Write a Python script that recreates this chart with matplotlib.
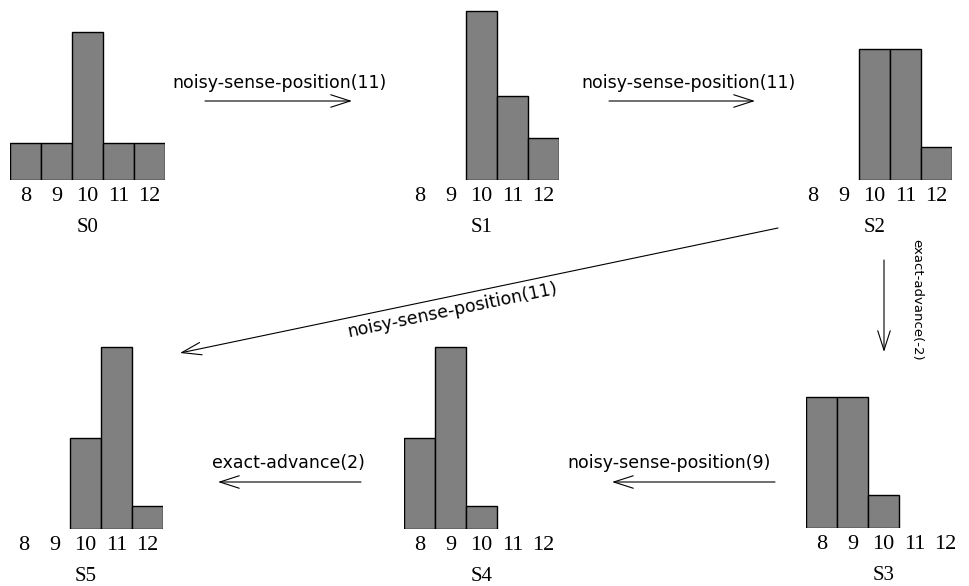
import matplotlib
matplotlib.use("Agg")
import matplotlib.pyplot as plt
from matplotlib.patches import FancyArrowPatch

# Belief states (probability of each position)
positions = [8, 9, 10, 11, 12]
s0 = [0.125, 0.125, 0.5, 0.125, 0.125]
s1 = [0.0, 0.0, 0.571, 0.286, 0.143]
s2 = [0.0, 0.0, 0.444, 0.444, 0.111]
s3 = [0.444, 0.444, 0.111, 0.0, 0.0]
s4 = [0.308, 0.615, 0.077, 0.0, 0.0]
s5 = [0.0, 0.0, 0.308, 0.615, 0.077]
state_names = ["S0", "S1", "S2", "S3", "S4", "S5"]
beliefs = [s0, s1, s2, s3, s4, s5]

action_labels = [
    "noisy-sense-position(11)",
    "noisy-sense-position(11)",
    "exact-advance(-2)",
    "noisy-sense-position(9)",
    "exact-advance(2)",
    "noisy-sense-position(11)",
]

W, H = 970, 586
fig = plt.figure(figsize=(W / 100, H / 100), dpi=100)

# overlay in pixel coords (y down) for arrows and action labels
ov = fig.add_axes([0, 0, 1, 1])
ov.set_xlim(0, W)
ov.set_ylim(H, 0)
ov.axis("off")


def px_box(left, base, w=155, h=183):
    return [left / W, (H - base) / H, w / W, h / H]


# left edge and bar-baseline (px) for each little histogram
hist_boxes = [(10, 180), (404, 180), (797, 180), (806, 528), (404, 529), (8, 529)]

for name, vals, (left, base) in zip(state_names, beliefs, hist_boxes):
    ax = fig.add_axes(px_box(left, base))
    ax.patch.set_visible(False)
    # skip empty positions so no outline is drawn there
    xs = [p for p, v in zip(positions, vals) if v > 0]
    ys = [v for v in vals if v > 0]
    ax.bar(xs, ys, width=1.0, color="#808080", edgecolor="black", linewidth=1.0)
    ax.set_xlim(7.5, 12.5)
    ax.set_ylim(0, 0.62)
    for sp in ax.spines.values():
        sp.set_visible(False)
    ax.set_yticks([])
    ax.set_xticks(positions)
    ax.set_xticklabels([str(p) for p in positions], family="Liberation Serif", fontsize=16)
    ax.tick_params(axis="x", length=0, pad=5)
    ax.set_xlabel(name, family="Liberation Serif", fontsize=15, labelpad=9)


def arrow(x0, y0, x1, y1):
    a = FancyArrowPatch((x0, y0), (x1, y1), arrowstyle="->,head_length=1.4,head_width=0.45",
                        mutation_scale=10, lw=0.8, color="black", shrinkA=0, shrinkB=0)
    ov.add_patch(a)


sans = "DejaVu Sans"

# S0 -> S1
arrow(205, 101, 352, 101)
ov.text(280, 88, action_labels[0], family=sans, fontsize=12.5, ha="center", va="baseline")
# S1 -> S2
arrow(609, 101, 755, 101)
ov.text(689, 88, action_labels[1], family=sans, fontsize=12.5, ha="center", va="baseline")
# S2 -> S3
arrow(884, 260, 884, 352)
ov.text(917, 300, action_labels[2], family=sans, fontsize=9.5,
        rotation=-90, ha="center", va="center")
# S3 -> S4
arrow(775, 482, 612, 482)
ov.text(669, 463, action_labels[3], family=sans, fontsize=12.5, ha="center", va="center")
# S4 -> S5
arrow(361, 482, 218, 482)
ov.text(288, 463, action_labels[4], family=sans, fontsize=12.5, ha="center", va="center")
# S2 -> S5
arrow(778, 228, 180, 353)
ov.text(452, 310, action_labels[5], family=sans, fontsize=12.5, rotation=11.8,
        rotation_mode="anchor", ha="center", va="center")

fig.savefig("out.png", dpi=100)
